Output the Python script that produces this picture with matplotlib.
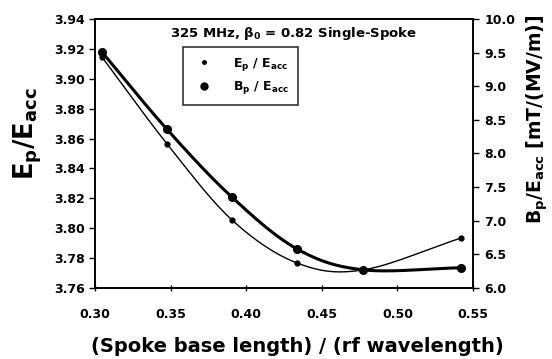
import numpy as np
import matplotlib.pyplot as plt
from matplotlib.lines import Line2D

plt.rcParams['font.family'] = ['DejaVu Sans']
plt.rcParams['font.weight'] = 'bold'
plt.rcParams['axes.labelweight'] = 'bold'

# spoke base length / rf wavelength
ratio = [0.3046, 0.3476, 0.3906, 0.4336, 0.4770, 0.5420]
ep_eacc = [3.9146, 3.8565, 3.8055, 3.7767, 3.7720, 3.7934]   # left axis
bp_eacc = [9.51, 8.36, 7.35, 6.58, 6.27, 6.30]               # right axis, mT/(MV/m)

title = r'325 MHz, $\mathbf{\beta_0}$ = 0.82 Single-Spoke'


def smooth(x, y, n=30):
    # Catmull-Rom curve through the points, like a spreadsheet "smoothed line"
    x = np.asarray(x, float)
    y = np.asarray(y, float)
    px = np.concatenate([[2 * x[0] - x[1]], x, [2 * x[-1] - x[-2]]])
    py = np.concatenate([[2 * y[0] - y[1]], y, [2 * y[-1] - y[-2]]])
    t = np.linspace(0, 1, n)
    xs, ys = [], []
    for i in range(1, len(px) - 2):
        for p, out in ((px, xs), (py, ys)):
            p0, p1, p2, p3 = p[i - 1], p[i], p[i + 1], p[i + 2]
            out.append(0.5 * (2 * p1 + (-p0 + p2) * t
                              + (2 * p0 - 5 * p1 + 4 * p2 - p3) * t ** 2
                              + (-p0 + 3 * p1 - 3 * p2 + p3) * t ** 3))
    return np.concatenate(xs), np.concatenate(ys)


fig = plt.figure(figsize=(5.52, 3.59), dpi=100)
ax = fig.add_axes([0.172, 0.198, 0.685, 0.749])
ax2 = ax.twinx()

sx, sy = smooth(ratio, ep_eacc)
ax.plot(sx, sy, color='black', lw=1.0)
ax.plot(ratio, ep_eacc, 'o', color='black', ms=3.5)

bx, by = smooth(ratio, bp_eacc)
ax2.plot(bx, by, color='black', lw=2.2)
ax2.plot(ratio, bp_eacc, 'o', color='black', ms=5.5)

xt = np.arange(0.30, 0.551, 0.05)
yt = np.arange(3.76, 3.941, 0.02)
yt2 = np.arange(6.0, 10.01, 0.5)
ax.set_xlim(0.30, 0.55)
ax.set_ylim(3.76, 3.94)
ax2.set_ylim(6.0, 10.0)
ax.set_xticks(xt)
ax.set_yticks(yt)
ax2.set_yticks(yt2)
ax.set_xticklabels(['%.2f' % v for v in xt])
ax.set_yticklabels(['%.2f' % v for v in yt])
ax2.set_yticklabels(['%.1f' % v for v in yt2])

for a in (ax, ax2):
    for s in a.spines.values():
        s.set_linewidth(1.2)
    for lab in a.get_xticklabels() + a.get_yticklabels():
        lab.set_fontsize(9)
ax.tick_params(axis='y', direction='out', length=4, width=1, pad=3)
ax.tick_params(axis='x', direction='inout', length=5, width=1, pad=12)
ax2.tick_params(axis='y', direction='out', length=4, width=1, pad=4)

ax.set_ylabel(r'$\mathbf{E_p/E_{acc}}$', fontsize=18.5)
ax.yaxis.set_label_coords(-0.134, 0.576)
ax2.set_ylabel(r'$\mathbf{B_p/E_{acc}}$ [mT/(MV/m)]', fontsize=13.5)
ax2.yaxis.set_label_coords(1.135, 0.628)
ax.set_xlabel('(Spoke base length) / (rf wavelength)', fontsize=14)
ax.xaxis.set_label_coords(0.535, -0.182)

ax.text(0.526, 0.948, title, transform=ax.transAxes, ha='center', va='center',
        fontsize=9.5)

handles = [
    Line2D([], [], ls='none', marker='o', color='black', ms=2.5),
    Line2D([], [], ls='none', marker='o', color='black', ms=5),
]
leg = ax.legend(handles, [r'$\mathbf{E_p}$ / $\mathbf{E_{acc}}$',
                          r'$\mathbf{B_p}$ / $\mathbf{E_{acc}}$'],
                loc='upper left', bbox_to_anchor=(0.233, 0.896), fontsize=9,
                frameon=True, fancybox=False, edgecolor='black',
                borderaxespad=0, handletextpad=1.3, borderpad=0.7,
                labelspacing=0.5)
leg.get_frame().set_linewidth(1.2)

fig.savefig('out.png', dpi=100)
